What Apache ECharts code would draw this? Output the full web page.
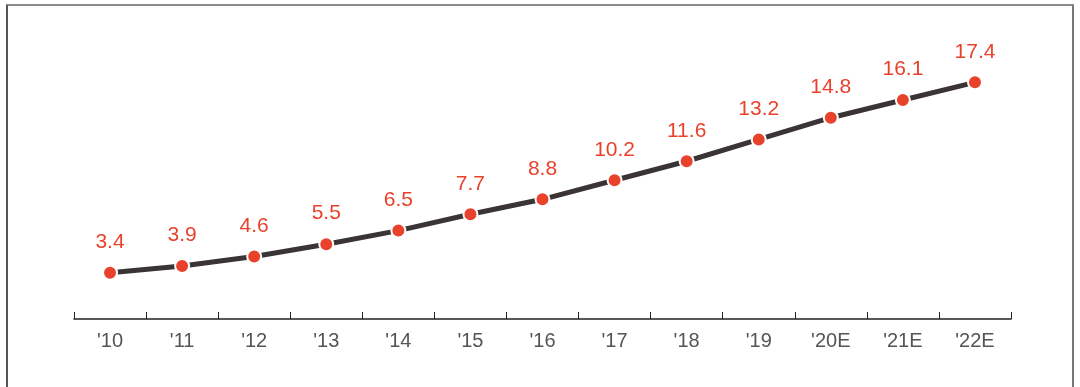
<!DOCTYPE html>
<html>
<head>
<meta charset="utf-8">
<script src="https://cdn.jsdelivr.net/npm/echarts@6/dist/echarts.min.js"></script>
<style>
	html,body{margin:0;padding:0;background:#fff;}
	#frame{position:absolute;left:6px;top:4px;width:1068px;height:400px;border-top:2px solid #8c8c8c;border-left:2px solid #555;border-right:2px solid #777;box-sizing:border-box;}
	#chart{position:absolute;left:0;top:0;width:1080px;height:387px;}
</style>
</head>
<body>
<div id="frame"></div>
<div id="chart"></div>
<script>
	var years = ["'10","'11","'12","'13","'14","'15","'16","'17","'18","'19","'20E","'21E","'22E"];
	var values = [3.4,3.9,4.6,5.5,6.5,7.7,8.8,10.2,11.6,13.2,14.8,16.1,17.4];

	var myChart = echarts.init(document.getElementById("chart"));
	var option = {
		animation: false,
		grid: {
			left: 74,
			right: 69,
			top: 47,
			bottom: 68
		},
		xAxis: {
			type: 'category',
			data: years,
			boundaryGap: true,
			axisLine: {show: true, lineStyle: {color: '#222', width: 1.5}},
			axisTick: {show: true, inside: true, length: 7, interval: 0, lineStyle: {color: '#222', width: 1}},
			axisLabel: {
				color: '#555',
				fontSize: 20,
				fontFamily: 'Liberation Sans, Arial, sans-serif',
				margin: 12
			}
		},
		yAxis: {
			type: 'value',
			min: 0,
			max: 20,
			axisLine: {show: false},
			axisTick: {show: false},
			axisLabel: {show: false},
			splitLine: {show: false}
		},
		series: [
			{
				type: 'line',
				data: values,
				symbol: 'circle',
				symbolSize: 14,
				itemStyle: {color: '#e8412c', borderColor: '#fff', borderWidth: 2},
				lineStyle: {color: '#3a3434', width: 5},
				label: {
					show: true,
					position: 'top',
					distance: 12,
					color: '#e8412c',
					fontSize: 21,
					fontFamily: 'Liberation Sans, Arial, sans-serif'
				}
			}
		]
	};
	myChart.setOption(option);
</script>
</body>
</html>
